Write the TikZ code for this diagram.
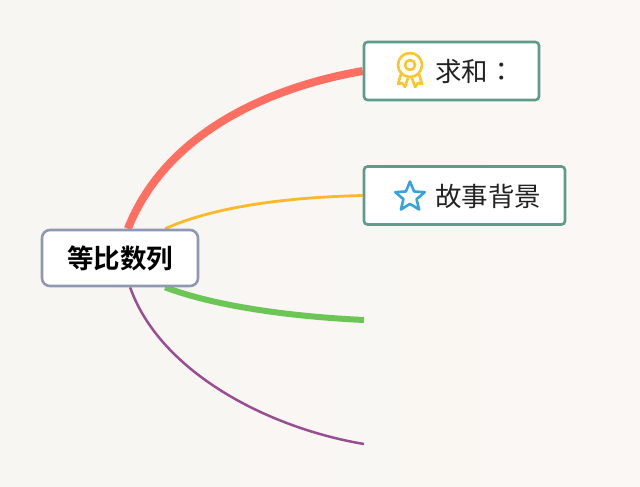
\documentclass[tikz,border=0pt]{standalone}
\usepackage{fontspec}
\usetikzlibrary{shapes.geometric,backgrounds}
\newfontfamily\cjk{Noto Sans CJK SC}
\newfontfamily\cjktc{Noto Sans CJK TC}
\newfontfamily\cjkb{Noto Sans CJK SC Bold}
\definecolor{bgl}{HTML}{F7F6F2}
\definecolor{bgr}{HTML}{FBF7F4}
\definecolor{boxgreen}{HTML}{5F9B8A}
\definecolor{rootedge}{HTML}{9198B2}
\definecolor{redl}{HTML}{FF6F61}
\definecolor{yell}{HTML}{FBB928}
\definecolor{greenl}{HTML}{6CC655}
\definecolor{purp}{HTML}{9A4E92}
\definecolor{gold}{HTML}{FCC52B}
\definecolor{bluestar}{HTML}{36A3DE}
\definecolor{ink}{HTML}{222222}
\tikzset{
  x=1pt,y=-1pt,
  topicbox/.style={draw=boxgreen,line width=2.6pt,fill=white,rounded corners=3.5pt,minimum height=58pt,inner sep=0pt},
  rootbox/.style={draw=rootedge,line width=2.6pt,fill=white,rounded corners=8pt,minimum width=156pt,minimum height=56pt,inner sep=0pt},
  label/.style={inner sep=0pt,anchor=west,text=ink,font=\fontsize{26.5pt}{27pt}\cjk},
  branch/.style={line cap=butt,fill=none},
  medal/.style={draw=gold,line width=2.6pt,line join=round},
}
\begin{document}
\begin{tikzpicture}
\useasboundingbox (0,0) rectangle (640,487);
\node[rootbox] (root) at (120,258) {\fontsize{26.5pt}{27pt}\cjkb\textcolor{black}{等比数列}};
\node[topicbox,minimum width=175pt] (sum) at (451.5,71) {};
\node[topicbox,minimum width=201pt] (story) at (464.5,195.5) {};
\coordinate (greenend) at (364,320);
\coordinate (purpleend) at (364,444);
\begin{scope}[on background layer]
\shade[left color=bgl,right color=bgr] (0,0) rectangle (640,487);
\draw[branch,redl,line width=8pt] (root.75) .. controls (165,135) and (265,88) .. (sum.west);
\draw[branch,yell,line width=2.8pt] (root.33) .. controls (220,204) and (300,197) .. (story.west);
\draw[branch,greenl,line width=6pt] (root.-33) .. controls (220,308) and (300,317) .. (greenend);
\draw[branch,purp,line width=2.5pt] (root.-71) .. controls (160,372) and (268,428) .. (purpleend);
\end{scope}
\node[label] (sumtext) at (435,71) {求和\cjktc：};
\node[label] (storytext) at (435,196) {故事背景};
% medal icon
\node[medal,circle,minimum size=24pt,inner sep=0pt] (medalouter) at (410,65) {};
\node[medal,circle,minimum size=10pt,inner sep=0pt] (medalinner) at (410,65) {};
\draw[medal] (401,74) -- (398,84) -- (402,83) -- (405,87) -- (408,78);
\draw[medal] (419,74) -- (422,84) -- (418,83) -- (415,87) -- (412,78);
% star icon
\node[star,star points=5,star point ratio=2.25,minimum size=31pt,inner sep=0pt,draw=bluestar,line width=2.6pt,line join=round] (staricon) at (410,197) {};
\end{tikzpicture}
\end{document}
